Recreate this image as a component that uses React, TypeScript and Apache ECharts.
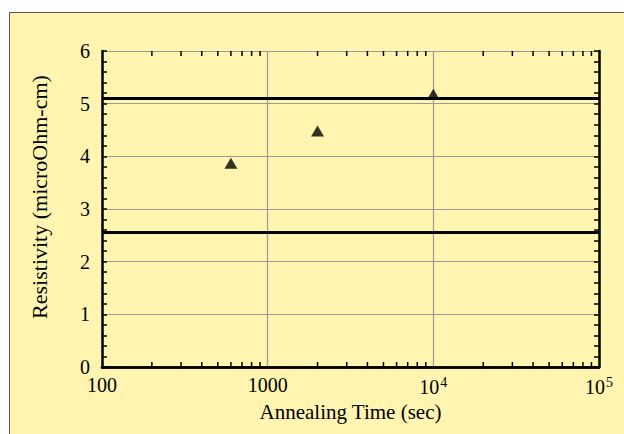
import React, { useEffect, useRef } from "react";
import * as echarts from "echarts";

const annealTimes = [600, 2000, 10000];
const resistivity = [3.87, 4.48, 5.18];
const limitLines = [5.1, 2.55];
const minorXTicks = [200, 300, 400, 500, 600, 700, 800, 900, 2000, 3000, 4000, 5000, 6000, 7000, 8000, 9000, 20000, 30000, 40000, 50000, 60000, 70000, 80000, 90000];
const xMin = 100;
const xMax = 100000;
const yMin = 0;
const yMax = 6;

const FONT = "Liberation Serif";
const BG = "#fff5b0";

function fmtX(v: number) {
  if (v === 100) return "100";
  if (v === 1000) return "1000";
  const e = Math.round(Math.log10(v));
  return "10{sup|" + e + "}";
}

export default function App() {
  const ref = useRef<HTMLDivElement>(null);
  useEffect(() => {
    if (!ref.current) return;
    const chart = echarts.init(ref.current, undefined, { renderer: "svg" });
    const labelStyle = {
      color: "#000",
      fontFamily: FONT,
      fontSize: 20,
    };
    const option: any = {
      animation: false,
      backgroundColor: "#ffffff",
      graphic: [
        {
          type: "rect",
          z: -10,
          silent: true,
          shape: { x: 9.5, y: 12.5, width: 700, height: 500 },
          style: { fill: BG, stroke: "#555", lineWidth: 1 },
        },
      ],
      grid: { left: 102, right: 25, top: 51, bottom: 67 },
      xAxis: [
        {
          type: "log",
          logBase: 10,
          min: xMin,
          max: xMax,
          position: "bottom",
          name: "Annealing Time (sec)",
          nameLocation: "middle",
          nameGap: 33,
          nameTextStyle: { ...labelStyle, fontSize: 21 },
          axisLine: { show: true, lineStyle: { color: "#000", width: 2.5 } },
          axisTick: { show: false },
          axisLabel: {
            ...labelStyle,
            margin: 8,
            formatter: fmtX,
            rich: {
              sup: { fontFamily: FONT, fontSize: 14, color: "#000", verticalAlign: "top", padding: [0, 0, 9, 1] },
            },
          },
          splitLine: { show: true, lineStyle: { color: "#999", width: 1.2 } },
        },
        {
          type: "log",
          logBase: 10,
          min: xMin,
          max: xMax,
          position: "top",
          axisLine: { show: true, lineStyle: { color: "#000", width: 2.5 } },
          axisTick: { show: false },
          axisLabel: { show: false },
          splitLine: { show: false },
        },
      ],
      yAxis: [
        {
          type: "value",
          min: yMin,
          max: yMax,
          interval: 1,
          position: "left",
          name: "Resistivity (microOhm-cm)",
          nameLocation: "middle",
          nameGap: 52,
          nameTextStyle: { ...labelStyle, fontSize: 22, padding: [0, 0, 0, 24] },
          axisLine: { show: true, lineStyle: { color: "#000", width: 2.5 } },
          axisTick: { show: true, inside: true, length: 5, lineStyle: { color: "#000", width: 1.5 } },
          minorTick: { show: true, splitNumber: 5, length: 5, lineStyle: { color: "#000", width: 1.5 } },
          axisLabel: { ...labelStyle, margin: 12 },
          splitLine: { show: true, lineStyle: { color: "#999", width: 1.2 } },
        },
        {
          type: "value",
          min: yMin,
          max: yMax,
          interval: 1,
          position: "right",
          axisLine: { show: true, lineStyle: { color: "#000", width: 2.5 } },
          axisTick: { show: true, inside: true, length: 5, lineStyle: { color: "#000", width: 1.5 } },
          minorTick: { show: true, splitNumber: 5, length: 5, lineStyle: { color: "#000", width: 1.5 } },
          axisLabel: { show: false },
          splitLine: { show: false },
        },
      ],
      series: [
        {
          type: "custom",
          xAxisIndex: 0,
          yAxisIndex: 0,
          silent: true,
          clip: false,
          data: minorXTicks.map((v) => [v]),
          renderItem: (params: any, api: any) => {
            const v = api.value(0);
            const b = api.coord([v, yMin]);
            const t = api.coord([v, yMax]);
            const st = { stroke: "#000", lineWidth: 1.5 };
            return {
              type: "group",
              children: [
                { type: "line", shape: { x1: b[0], y1: b[1], x2: b[0], y2: b[1] - 5 }, style: st },
                { type: "line", shape: { x1: t[0], y1: t[1], x2: t[0], y2: t[1] + 5 }, style: st },
              ],
            };
          },
        },
        {
          type: "scatter",
          xAxisIndex: 0,
          yAxisIndex: 0,
          symbol: "triangle",
          symbolSize: [13, 11],
          itemStyle: { color: "#000" },
          z: 5,
          data: annealTimes.map((t, i) => [t, resistivity[i]]),
          markLine: {
            silent: true,
            symbol: "none",
            label: { show: false },
            lineStyle: { color: "#000", width: 3, type: "solid" },
            data: limitLines.map((y) => ({ yAxis: y })),
          },
        },
      ],
    };
    chart.setOption(option);
    return () => chart.dispose();
  }, []);
  return (
    <div
      ref={ref}
      style={{ position: "fixed", left: 0, top: 0, width: 624, height: 434 }}
    />
  );
}
